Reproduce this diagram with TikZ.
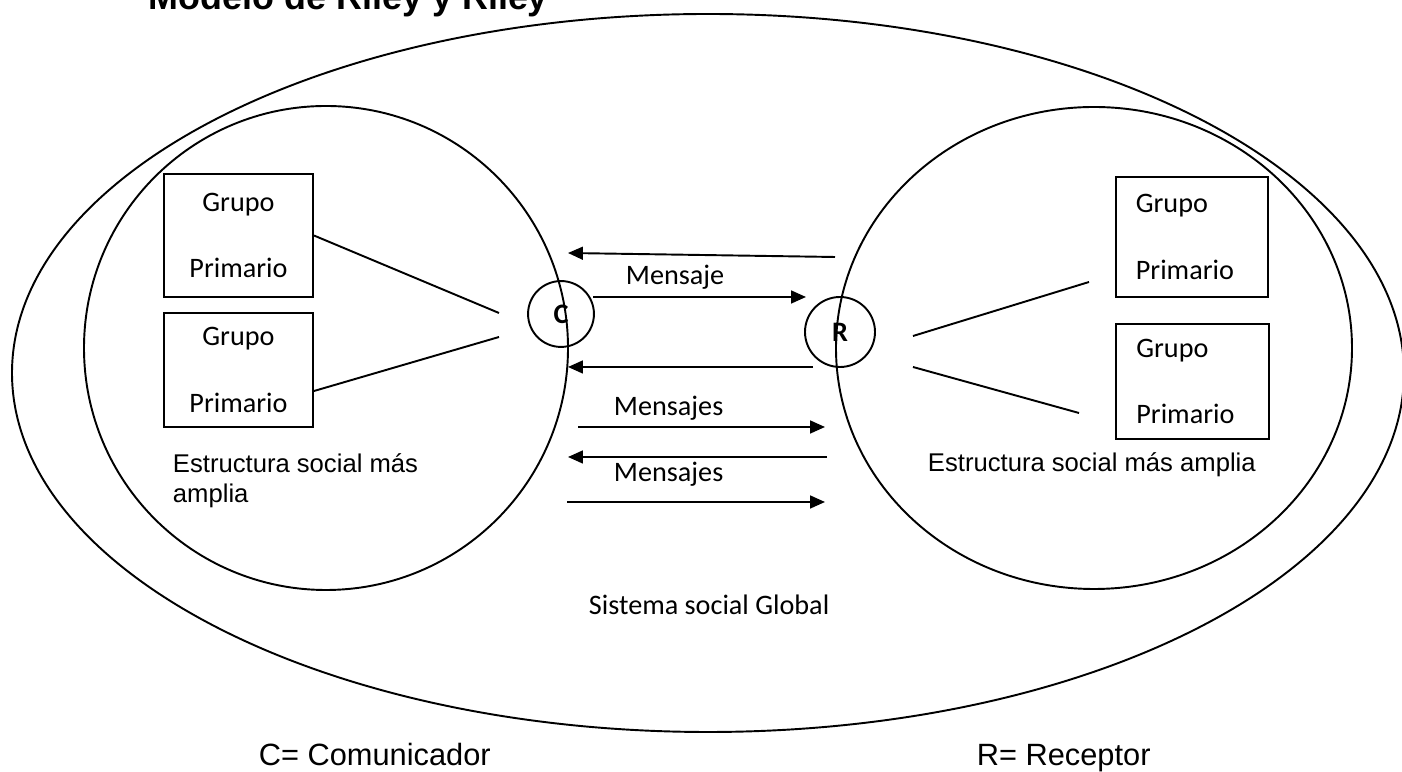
\documentclass[tikz,border=0pt]{standalone}
\usepackage{fontspec}
\setmainfont{Carlito}
\newfontfamily\arialfont{Liberation Sans}
\usetikzlibrary{arrows.meta}

\tikzset{
  grupo/.style={draw, line width=0.75pt, inner sep=0pt, align=center,
    font=\fontsize{11}{25.8}\selectfont},
  gruporight/.style={grupo, align=left, inner xsep=7.8pt, text width=43.8pt},
  persona/.style={draw, circle, line width=0.75pt, inner sep=0pt,
    font=\fontsize{11}{13}\selectfont\bfseries},
  msg/.style={line width=0.75pt, -{Triangle[length=5.8pt,width=5pt]}},
  txt/.style={inner sep=0pt, anchor=base west},
}

\begin{document}
\begin{tikzpicture}[x=0.39pt, y=-0.39pt, line width=0.75pt]
    \useasboundingbox (0,0) rectangle (1402,772);

    % Title (cut off at the top)
    \node[txt, font=\arialfont\fontsize{14}{16}\selectfont\bfseries] (title) at (148,9.5) {Modelo de Riley y Riley};

    % Social systems
    \draw (708,373) ellipse [x radius=696, y radius=359];
    \draw (326,348) circle [radius=242];
    \draw (1094,348) ellipse [x radius=258, y radius=241];

    % Primary groups
    \node[grupo, minimum width=58.1pt, minimum height=48pt] (g1) at (238.5,235.5) {Grupo\\Primario};
    \node[grupo, minimum width=58.1pt, minimum height=44.5pt] (g2) at (238.5,370) {Grupo\\Primario};
    \node[gruporight, minimum height=46.8pt] (g3) at (1192,237) {Grupo\\Primario};
    \node[gruporight, minimum height=44.9pt] (g4) at (1192.5,381.5) {Grupo\\Primario};

    % Communicator and receiver
    \node[persona, minimum size=25.7pt] (C) at (561,314) {C};
    \node[persona, minimum size=27.3pt] (R) at (840,332) {R};

    % Links to the groups
    \coordinate (cl1) at (499,313);
    \coordinate (cl2) at (499,337);
    \coordinate (rl1) at (913,336);
    \coordinate (rl2) at (913,367);
    \coordinate (gl3) at (1089,282);
    \coordinate (gl4) at (1079,413);
    \draw (g1.east) -- (cl1);
    \draw ([yshift=-8.2pt]g2.east) -- (cl2);
    \draw (rl1) -- (gl3);
    \draw (rl2) -- (gl4);

    % Messages
    \coordinate (m1a) at (835,257);  \coordinate (m1b) at (568,253);
    \coordinate (m2a) at (593,297);  \coordinate (m2b) at (806,297);
    \coordinate (m3a) at (813,367);  \coordinate (m3b) at (568,367);
    \coordinate (m4a) at (578,427);  \coordinate (m4b) at (825,427);
    \coordinate (m5a) at (827,457);  \coordinate (m5b) at (568,457);
    \coordinate (m6a) at (567,502);  \coordinate (m6b) at (825,502);
    \foreach \m in {1,...,6}
        \draw[msg] (m\m a) -- (m\m b);

    \node[txt, font=\fontsize{11}{13}\selectfont] (lm1) at (625,285) {Mensaje};
    \node[txt, font=\fontsize{11}{13}\selectfont] (lm2) at (613,416) {Mensajes};
    \node[txt, font=\fontsize{11}{13}\selectfont] (lm3) at (613,482) {Mensajes};

    % Labels
    \node[txt, align=left, font=\arialfont\fontsize{10}{11.8}\selectfont] (estc) at (172,503) {Estructura social más\\amplia};
    \node[txt, font=\arialfont\fontsize{10}{12}\selectfont] (estr) at (927,472) {Estructura social más amplia};
    \node[txt, font=\fontsize{11}{13}\selectfont] (global) at (588,615) {Sistema social Global};
    \node[txt, font=\arialfont\fontsize{12}{14}\selectfont] (legc) at (258,766) {C= Comunicador};
    \node[txt, font=\arialfont\fontsize{12}{14}\selectfont] (legr) at (976,766) {R= Receptor};
\end{tikzpicture}
\end{document}
